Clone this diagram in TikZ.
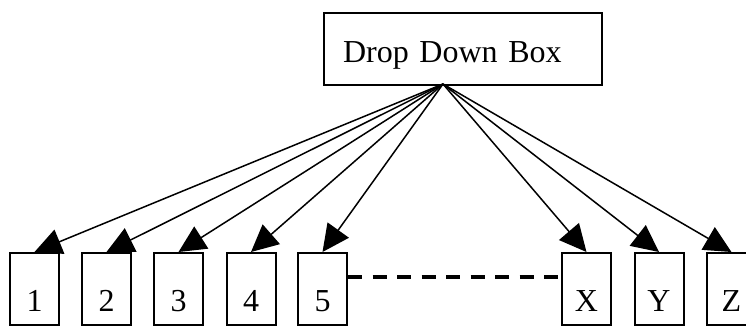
\documentclass[tikz,border=0pt]{standalone}
\usepackage{fontspec}
\setmainfont{Liberation Serif}
\usetikzlibrary{arrows.meta}
\begin{document}
\begin{tikzpicture}[x=1pt,y=-1pt,
  every node/.style={font=\fontsize{32}{38}\selectfont},
  leaf/.style={draw, line width=2pt, fill=white, inner sep=0pt,
    minimum width=49pt, text height=58pt, text depth=14pt},
  link/.style={line width=1.5pt, -{Triangle[length=27pt,width=26pt]}},
  gap/.style={line width=3.2pt, dash pattern=on 14pt off 10.5pt}]
  \useasboundingbox (0,0) rectangle (746,325);

  % top box, text set flush left
  \node[draw, line width=2pt, inner ysep=0pt, inner xsep=19pt,
        text width=240pt, align=left, text height=49pt, text depth=23pt,
        anchor=north west] (top) at (323,12) {Drop Down Box};

  % row of leaf boxes
  \node[leaf, anchor=north] (b1) at (34.5,252) {1};
  \node[leaf, anchor=north] (b2) at (106.5,252) {2};
  \node[leaf, anchor=north] (b3) at (178.5,252) {3};
  \node[leaf, anchor=north] (b4) at (251,252) {4};
  \node[leaf, anchor=north] (b5) at (322.5,252) {5};
  \node[leaf, anchor=north] (bX) at (586.5,252) {X};
  \node[leaf, anchor=north] (bY) at (659,252) {Y};
  \node[leaf, anchor=north] (bZ) at (731.5,252) {Z};

  % common start point of the fan of arrows
  \coordinate (src) at (443,84);
  \foreach \b in {b1,b2,b3,b4,b5,bX,bY,bZ}
    \draw[link] (src) -- (\b.north);

  % elided boxes between 5 and X
  \draw[gap] ([yshift=-25pt]b5.north east) -- ([yshift=-25pt]bX.north west);
\end{tikzpicture}
\end{document}
